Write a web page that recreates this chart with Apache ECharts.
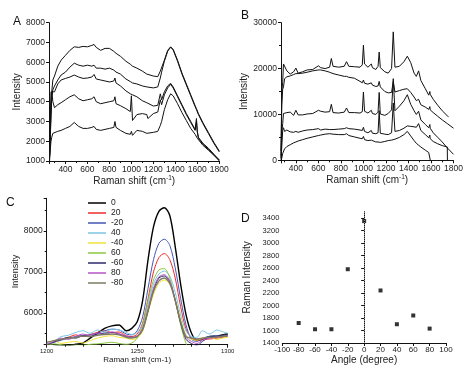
<!DOCTYPE html>
<html>
<head>
<meta charset="utf-8">
<script src="https://cdn.jsdelivr.net/npm/echarts@6/dist/echarts.min.js"></script>
<style>
  html, body { margin: 0; padding: 0; background: #fff; }
  #chart { width: 474px; height: 377px; }
</style>
</head>
<body>
<div id="chart"></div>
<script>
// ---- panel A : Raman spectra
var aX = [255, 262, 268, 275, 285, 300, 330, 360, 400, 440, 480, 520, 560, 600, 640, 660, 680, 720, 760, 800, 840, 850, 860, 900, 950, 990, 1000, 1010, 1050, 1100, 1140, 1150, 1200, 1240, 1255, 1263, 1275, 1300, 1330, 1357, 1380, 1420, 1460, 1500, 1540, 1580, 1592, 1600, 1610, 1650, 1700, 1750, 1800];
var a1 = [1300, 2500, 3500, 4500, 5100, 5300, 5800, 6100, 6350, 6600, 6780, 6750, 6800, 6780, 6850, 6900, 6750, 6600, 6700, 6700, 6550, 6550, 6450, 6300, 6050, 5900, 5850, 5800, 5700, 5550, 5400, 5380, 5300, 5270, 5300, 5550, 5600, 6100, 6600, 6780, 6650, 6100, 5450, 4900, 4350, 3800, 3650, 3550, 3400, 2950, 2450, 1950, 1500];
var a2 = [1200, 2300, 3300, 4200, 4600, 4800, 5100, 5350, 5500, 5750, 5950, 5850, 5800, 5850, 5800, 5850, 5700, 5700, 5650, 5700, 5600, 5600, 5500, 5400, 5150, 5020, 5000, 4950, 4900, 4800, 4750, 4720, 4700, 4750, 4800, 5200, 5500, 6050, 6550, 6760, 6620, 6050, 5400, 4850, 4300, 3750, 3600, 3500, 3350, 2900, 2400, 1900, 1460];
var a3 = [1500, 3000, 4500, 4600, 4400, 4500, 4900, 5100, 5180, 5250, 5350, 5250, 5180, 5200, 5250, 5380, 5150, 5100, 5050, 5000, 5050, 5200, 4950, 4800, 4550, 4400, 4450, 4350, 4250, 4050, 3950, 3850, 3780, 3820, 3900, 4400, 4100, 4500, 4800, 4930, 4750, 4300, 3850, 3400, 3000, 2600, 3150, 2500, 2200, 1900, 1650, 1350, 1050];
var a4 = [1200, 2000, 3800, 4500, 4000, 3700, 3850, 3950, 4100, 4250, 4350, 4150, 4050, 4100, 4150, 4250, 4000, 3900, 3950, 4000, 4050, 4250, 3900, 3800, 3650, 3500, 4300, 3050, 3350, 3400, 3350, 3150, 3400, 3480, 3550, 4100, 3850, 4350, 4700, 4880, 4700, 4250, 3800, 3350, 2950, 2550, 3000, 2450, 2150, 1850, 1600, 1300, 1050];
var a5 = [1000, 1600, 2000, 2200, 2400, 2450, 2500, 2550, 2650, 2750, 2950, 2750, 2650, 2650, 2700, 2750, 2600, 2550, 2600, 2650, 2700, 3000, 2700, 2550, 2400, 2350, 2500, 2300, 2550, 2500, 2400, 2450, 2450, 2500, 2600, 2800, 3000, 3600, 4100, 4400, 4300, 3900, 3450, 3050, 2650, 2350, 2250, 2150, 2050, 1800, 1550, 1300, 1000];

// ---- panel B : Raman spectra
var bX = [268, 275, 283, 290, 300, 320, 350, 380, 400, 420, 460, 500, 550, 600, 620, 660, 700, 715, 730, 780, 830, 850, 870, 920, 970, 990, 1000, 1010, 1040, 1070, 1080, 1110, 1130, 1140, 1150, 1190, 1220, 1250, 1265, 1280, 1320, 1360, 1390, 1420, 1450, 1470, 1490, 1510, 1550, 1580, 1590, 1593, 1594, 1620, 1660, 1700, 1745, 1746, 1756, 1800];
var b1 = [2000, 15000, 17000, 21000, 20800, 19500, 18800, 19300, 20100, 19000, 19300, 19700, 19800, 20600, 20200, 20000, 20300, 22200, 20500, 20300, 20500, 21500, 20500, 20400, 20300, 20800, 25100, 21000, 20300, 21000, 20200, 19800, 20500, 23600, 20200, 19300, 19000, 20000, 28000, 20300, 20500, 21500, 22700, 21300, 19000, 18300, 19500, 17400, 15600, 14200, 15000, 14400, 14300, 13300, 12000, 10800, 9700, 9700, 9500, null];
var b2 = [1000, 12000, 15500, 16000, 17800, 18200, 18400, 18700, 18900, 18900, 19000, 19200, 19500, 19700, 19700, 19500, 19200, 19000, 18900, 18600, 18300, 18300, 18100, 17900, 17200, 16900, 17500, 16800, 16600, 16900, 16400, 16100, 16200, 17200, 16000, 15000, 14700, 14800, 17200, 14900, 15200, 15500, 15600, 14800, 13800, 13000, 13300, 12100, 11600, 11100, 11700, 11000, 10950, 10400, 9600, 8800, 8000, 8000, 7800, 7000];
var b3 = [500, 6000, 8000, 10200, 9800, 10400, 10500, 9800, 10900, 9900, 9900, 10100, 10200, 10900, 10700, 10500, 10600, 12200, 10400, 10300, 10500, 11400, 10400, 10400, 10300, 10600, 14900, 10700, 10300, 10900, 10200, 10000, 10500, 14800, 10100, 9800, 10200, 11000, 17800, 10800, 11800, 13000, 14300, 12200, 10800, 10000, 10700, 8800, 7800, 7100, 7800, 7000, 6950, 6000, 5000, 4000, 2700, 2700, 2500, 1300];
var b4 = [200, 3000, 6500, 7100, 6300, 6600, 6200, 6100, 6300, 6100, 6400, 6600, 6700, 6900, 6600, 6800, 6700, 7000, 6700, 6800, 6900, 7100, 6900, 6800, 6600, 6500, 7200, 6300, 6000, 6500, 5900, 5800, 6000, 10800, 5900, 5700, 5600, 6000, 12500, 6300, 6500, 7000, 7500, 7400, 7300, 7200, 8000, 6500, 5600, 4900, 5500, 4700, 4650, 4100, 3600, 3200, 2900, 0, null, null];
var b5 = [0, 500, 1500, 1200, 2500, 3000, 3400, 3800, 4000, 4200, 4500, 4800, 5100, 5400, 5500, 5700, 5800, 5700, 5700, 5600, 5600, 5800, 5400, 5100, 4800, 4700, 5200, 4500, 4300, 4400, 4100, 4000, 4000, 4200, 3900, 4100, 4300, 4400, 4700, 4600, 5000, 5600, 6300, 5300, 4300, 3700, 3300, 2900, 2200, 1700, 1600, 1500, 0, null, null, null, null, null, null, null];

// ---- panel C : 1265 band vs angle
var cX = [1200, 1204, 1208, 1212, 1216, 1220, 1224, 1228, 1232, 1236, 1240, 1244, 1247, 1250, 1253, 1256, 1259, 1262, 1265, 1268, 1271, 1274, 1277, 1280, 1283, 1286, 1290, 1294, 1297, 1300];
var cNames = ['0', '20', '-20', '40', '-40', '60', '-60', '80', '-80'];
var cColors = ['#000000', '#ee2b2b', '#4356b4', '#7cc6e6', '#f2e23a', '#8cc63f', '#2c2a6c', '#b453c6', '#7d7b62'];
var c0 = [5150, 5180, 5190, 5200, 5230, 5260, 5380, 5500, 5620, 5680, 5700, 5560, 5620, 5780, 6300, 7300, 8100, 8480, 8570, 8380, 7620, 6700, 5950, 5500, 5330, 5350, 5420, 5430, 5460, 5480];
var c20 = [5220, 5300, 5350, 5400, 5460, 5420, 5470, 5520, 5560, 5520, 5530, 5440, 5420, 5480, 5750, 6350, 7000, 7350, 7450, 7300, 6850, 6150, 5600, 5380, 5330, 5350, 5360, 5380, 5400, 5430];
var cm20 = [5230, 5280, 5330, 5380, 5420, 5440, 5460, 5500, 5560, 5600, 5580, 5480, 5460, 5560, 5900, 6600, 7300, 7700, 7800, 7650, 7100, 6350, 5700, 5350, 5300, 5380, 5420, 5440, 5430, 5450];
var c40 = [5250, 5300, 5420, 5450, 5520, 5560, 5500, 5580, 5520, 5600, 5580, 5520, 5470, 5520, 5700, 6200, 6700, 6950, 7020, 6900, 6500, 5950, 5550, 5420, 5400, 5560, 5480, 5580, 5540, 5500];
var cm40 = [5200, 5320, 5250, 5280, 5300, 5260, 5320, 5380, 5420, 5440, 5400, 5380, 5350, 5380, 5550, 6000, 6450, 6720, 6800, 6700, 6350, 5850, 5450, 5350, 5330, 5380, 5400, 5350, 5380, 5400];
var c60 = [5200, 5240, 5220, 5200, 5210, 5200, 5230, 5240, 5260, 5280, 5250, 5230, 5260, 5380, 5700, 6300, 6800, 7050, 7080, 6850, 6300, 5700, 5250, 5050, null, null, null, null, null, null];
var cm60 = [5220, 5280, 5350, 5400, 5380, 5440, 5420, 5480, 5500, 5520, 5480, 5420, 5400, 5420, 5600, 6050, 6550, 6850, 6900, 6750, 6300, 5750, 5350, 5250, 5200, 5300, 5400, 5420, 5450, 5480];
var c80 = [5230, 5300, 5380, 5350, 5420, 5480, 5450, 5500, 5470, 5530, 5490, 5430, 5400, 5440, 5620, 6100, 6600, 6880, 6930, 6780, 6320, 5780, 5400, 5300, 5250, 5330, 5380, 5400, 5420, 5440];
var cm80 = [5280, 5320, 5350, 5380, 5400, 5430, 5420, 5450, 5470, 5480, 5460, 5400, 5380, 5420, 5580, 6050, 6520, 6780, 6850, 6720, 6300, 5780, 5420, 5380, 5360, 5380, 5400, 5410, 5420, 5440];
var cSeriesVals = [c0, c20, cm20, c40, cm40, c60, cm60, c80, cm80];

// ---- panel D : peak intensity vs angle
var dAngle = [-80, -60, -40, -20, 0, 20, 40, 60, 80];
var dIntensity = [1720, 1620, 1620, 2580, 3350, 2240, 1700, 1840, 1630];

var FONT = 'Liberation Sans';
var INK = '#222';

function plain(v) { return String(v); }

function label(size, margin, extra) {
  var o = { color: INK, fontFamily: FONT, fontSize: size, margin: margin, formatter: plain };
  for (var k in extra) o[k] = extra[k];
  return o;
}

function axisBase(extra) {
  var o = {
    axisLine: { show: true, lineStyle: { color: '#111', width: 1 } },
    axisTick: { show: true, length: 3, lineStyle: { color: '#111' } },
    splitLine: { show: false },
    axisLabel: label(8.5, 4),
    nameLocation: 'middle',
    nameTextStyle: { color: INK, fontFamily: FONT, fontSize: 10 }
  };
  for (var k in extra) o[k] = extra[k];
  return o;
}

var minor = { show: true, splitNumber: 2, length: 2, lineStyle: { color: '#111' } };

var ramanName = {
  name: '{a|Raman shift (cm}{b|-1}{a|)}',
  nameTextStyle: {
    rich: {
      a: { color: INK, fontFamily: FONT, fontSize: 10 },
      b: { color: INK, fontFamily: FONT, fontSize: 6.5, padding: [0, 0, 6, 0] }
    }
  }
};

function lineSeries(xi, yi, xs, ys, extra) {
  var s = {
    type: 'line',
    xAxisIndex: xi,
    yAxisIndex: yi,
    symbol: 'none',
    smooth: false,
    animation: false,
    lineStyle: { color: '#111', width: 1 },
    data: xs.map(function (x, i) { return [x, ys[i]]; })
  };
  for (var k in extra) s[k] = extra[k];
  return s;
}

var series = [];
[a1, a2, a3, a4, a5].forEach(function (v) { series.push(lineSeries(0, 0, aX, v)); });
[b1, b2, b3, b4, b5].forEach(function (v) { series.push(lineSeries(1, 1, bX, v)); });
cSeriesVals.forEach(function (v, i) {
  series.push(lineSeries(2, 2, cX, v, {
    name: cNames[i],
    smooth: 0.3,
    color: cColors[i],
    itemStyle: { color: cColors[i] },
    lineStyle: { color: cColors[i], width: i === 0 || i === 8 ? 1.4 : 1 }
  }));
});
series.push({
  type: 'scatter',
  xAxisIndex: 3,
  yAxisIndex: 3,
  symbol: 'rect',
  symbolSize: 4,
  itemStyle: { color: '#000' },
  animation: false,
  data: dAngle.map(function (a, i) { return [a, dIntensity[i]]; }),
  markLine: {
    silent: true,
    symbol: 'none',
    animation: false,
    label: { show: false },
    lineStyle: { type: 'dotted', color: '#888', width: 1 },
    data: [{ xAxis: 0 }]
  }
});

var chart = echarts.init(document.getElementById('chart'));
chart.setOption({
  backgroundColor: '#fff',
  animation: false,
  grid: [
    { left: 49, top: 22.7, right: 254.7, bottom: 216 },
    { left: 281, top: 22.7, right: 20.5, bottom: 216.7 },
    { left: 46.7, top: 198.3, right: 246.3, bottom: 32.3 },
    { left: 282.3, top: 211.7, right: 28, bottom: 34 }
  ],
  xAxis: [
    axisBase(Object.assign({ gridIndex: 0, type: 'value', min: 250, max: 1800, splitNumber: 8, nameGap: 12,
      minorTick: minor, axisLabel: label(8.5, 4, { showMinLabel: false }) }, ramanName)),
    axisBase(Object.assign({ gridIndex: 1, type: 'value', min: 268, max: 1800, splitNumber: 8, nameGap: 12,
      minorTick: minor, axisLabel: label(8.5, 4, { showMinLabel: false }) }, ramanName)),
    axisBase({ gridIndex: 2, type: 'value', min: 1200, max: 1300, interval: 50, name: 'Raman shift (cm-1)', nameGap: 9,
      minorTick: { show: true, splitNumber: 5, length: 2, lineStyle: { color: '#111' } },
      nameTextStyle: { color: INK, fontFamily: FONT, fontSize: 8 },
      axisLabel: label(6, 4) }),
    axisBase({ gridIndex: 3, type: 'value', min: -100, max: 100, interval: 20, name: 'Angle (degree)', nameGap: 12,
      axisLabel: label(8, 3) })
  ],
  yAxis: [
    axisBase({ gridIndex: 0, type: 'value', min: 1000, max: 8000, interval: 1000, name: 'Intensity', nameGap: 26 }),
    axisBase({ gridIndex: 1, type: 'value', min: 0, max: 30000, interval: 10000, name: 'Intensity', nameGap: 30,
      minorTick: minor }),
    axisBase({ gridIndex: 2, type: 'value', min: 5220, max: 8800, splitNumber: 4, name: 'Intensity', nameGap: 23,
      minorTick: minor,
      nameTextStyle: { color: INK, fontFamily: FONT, fontSize: 9 },
      axisLabel: label(8.5, 4, { showMinLabel: false, showMaxLabel: false }) }),
    axisBase({ gridIndex: 3, type: 'value', min: 1400, max: 3500, interval: 200, name: 'Raman Intensity', nameGap: 30,
      axisLabel: label(7.5, 3, { showMaxLabel: false }) })
  ],
  legend: {
    orient: 'vertical',
    left: 88,
    top: 198,
    padding: 0,
    icon: 'rect',
    itemWidth: 18,
    itemHeight: 1.5,
    itemGap: 0,
    textStyle: { color: INK, fontFamily: FONT, fontSize: 8.5, lineHeight: 10 },
    data: cNames
  },
  graphic: [
    { type: 'text', left: 13, top: 16, style: { text: 'A', font: '12px ' + FONT, fill: '#111' } },
    { type: 'text', left: 241, top: 10, style: { text: 'B', font: '12px ' + FONT, fill: '#111' } },
    { type: 'text', left: 6, top: 197, style: { text: 'C', font: '12px ' + FONT, fill: '#111' } },
    { type: 'text', left: 241, top: 213, style: { text: 'D', font: '12px ' + FONT, fill: '#111' } }
  ],
  series: series
});
</script>
</body>
</html>
